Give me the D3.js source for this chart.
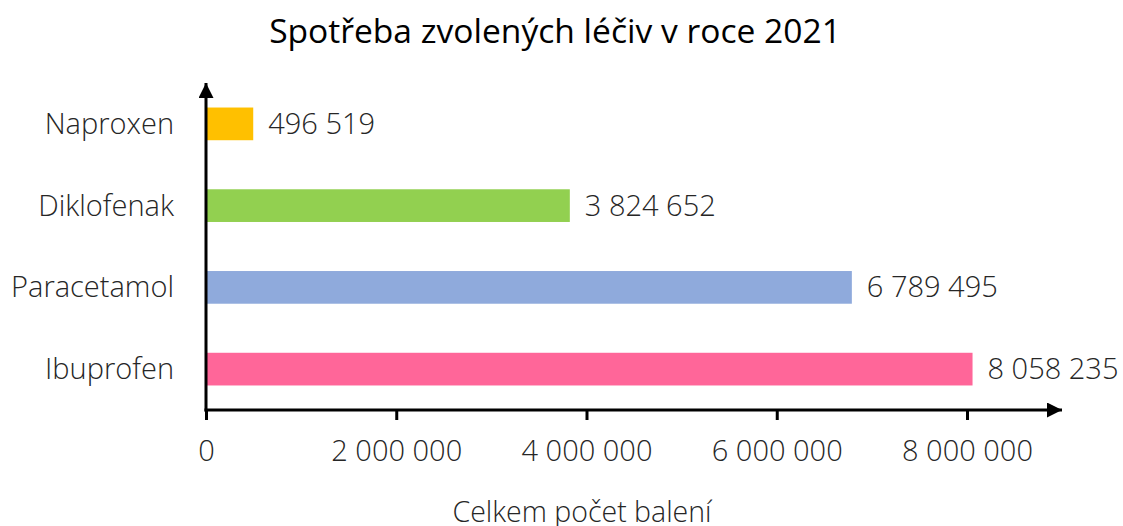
<!DOCTYPE html>
<html>
<head>
<meta charset="utf-8">
<script src="https://cdn.jsdelivr.net/npm/d3@7"></script>
<style>
  body { margin: 0; background: #fff; }
  text { font-family: "Open Sans", sans-serif; }
</style>
</head>
<body>
<svg width="1123" height="526"></svg>
<script>
// data
const categories = ["Naproxen", "Diklofenak", "Paracetamol", "Ibuprofen"];
const values = [496519, 3824652, 6789495, 8058235];
const colors = ["#FFC000", "#92D050", "#8FAADC", "#FF6699"];
const xTicks = [0, 2000000, 4000000, 6000000, 8000000];

const fmt = d => d3.format(",")(d).replace(/,/g, " ");

const svg = d3.select("svg");

const x = d3.scaleLinear()
    .domain([0, 8000000])
    .range([206, 967]);

const y = d3.scaleBand()
    .domain(categories)
    .range([83, 410])
    .paddingInner(0.6)
    .paddingOuter(0.3);

// title
svg.append("text")
    .attr("x", 555)
    .attr("y", 43)
    .attr("text-anchor", "middle")
    .attr("font-size", "33.6px")
    .attr("fill", "#000")
    .text("Spotřeba zvolených léčiv v roce 2021");

// bars
svg.selectAll("rect.bar")
    .data(values)
    .enter()
    .append("rect")
    .attr("class", "bar")
    .attr("x", x(0))
    .attr("y", (d, i) => y(categories[i]))
    .attr("width", d => x(d) - x(0))
    .attr("height", y.bandwidth())
    .attr("fill", (d, i) => colors[i]);

// value labels
svg.selectAll("text.val")
    .data(values)
    .enter()
    .append("text")
    .attr("class", "val")
    .attr("x", d => x(d) + 15)
    .attr("y", (d, i) => y(categories[i]) + y.bandwidth() / 2 + 10)
    .attr("font-size", "29px")
    .attr("font-weight", 300)
    .attr("fill", "#262626")
    .text(d => fmt(d));

// category labels
svg.selectAll("text.cat")
    .data(categories)
    .enter()
    .append("text")
    .attr("class", "cat")
    .attr("x", 174)
    .attr("y", d => y(d) + y.bandwidth() / 2 + 10)
    .attr("text-anchor", "end")
    .attr("font-size", "29px")
    .attr("font-weight", 300)
    .attr("fill", "#262626")
    .text(d => d);

// x axis
const xAxis = svg.append("g")
    .attr("transform", "translate(0,410)")
    .call(d3.axisBottom(x).tickValues(xTicks).tickSize(10).tickPadding(20).tickFormat(fmt));
xAxis.select(".domain").remove();
xAxis.selectAll(".tick line").attr("stroke", "#000").attr("stroke-width", 3);
xAxis.selectAll(".tick text")
    .attr("font-size", "29px")
    .attr("font-weight", 300)
    .attr("fill", "#262626")
    .attr("font-family", "Open Sans");

// axis lines with arrows
svg.append("defs").append("marker")
    .attr("id", "arrow")
    .attr("viewBox", "0 0 10 10")
    .attr("refX", 10)
    .attr("refY", 5)
    .attr("markerWidth", 5)
    .attr("markerHeight", 5)
    .attr("markerUnits", "strokeWidth")
    .attr("orient", "auto")
    .append("path")
    .attr("d", "M0,0L10,5L0,10Z")
    .attr("fill", "#000");

svg.append("line")
    .attr("x1", x(0) - 1.5).attr("y1", 410)
    .attr("x2", 1062).attr("y2", 410)
    .attr("stroke", "#000").attr("stroke-width", 3)
    .attr("marker-end", "url(#arrow)");

svg.append("line")
    .attr("x1", x(0)).attr("y1", 411.5)
    .attr("x2", x(0)).attr("y2", 83)
    .attr("stroke", "#000").attr("stroke-width", 3)
    .attr("marker-end", "url(#arrow)");

// axis title
svg.append("text")
    .attr("x", 582)
    .attr("y", 522)
    .attr("text-anchor", "middle")
    .attr("font-size", "28.5px")
    .attr("font-weight", 300)
    .attr("fill", "#262626")
    .text("Celkem počet balení");
</script>
</body>
</html>
